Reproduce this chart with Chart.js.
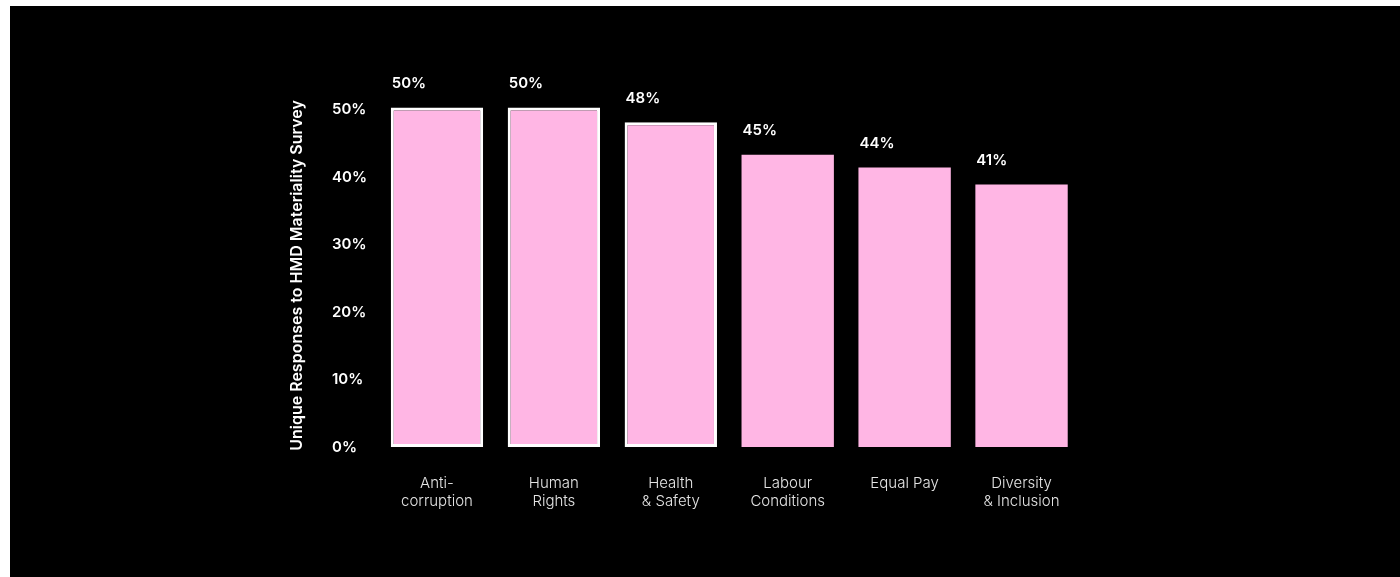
<!DOCTYPE html>
<html>
<head>
<meta charset="utf-8">
<script src="https://cdn.jsdelivr.net/npm/chart.js@4"></script>
<style>
  html, body { margin: 0; padding: 0; background: #ffffff; }
  #caixa { position: absolute; left: 10px; top: 6px; width: 1390px; height: 571px; background: #000000; }
  #caixa canvas { display: block; }
</style>
</head>
<body>
<div id="caixa"><canvas id="graficoMaterialidade" width="1390" height="571"></canvas></div>
<script>
var categorias = [["Anti-", "corruption"], ["Human", "Rights"], ["Health", "& Safety"], ["Labour", "Conditions"], ["Equal Pay"], ["Diversity", "& Inclusion"]];
var valores = [50.3, 50.3, 48.1, 43.3, 41.4, 38.9];
var rotulosValores = ["50%", "50%", "48%", "45%", "44%", "41%"];
var ticksY = [0, 10, 20, 30, 40, 50];
var tituloY = "Unique Responses to HMD Materiality Survey";

var rosa = "#ffb6e4";

// rótulos em cima das barras, alinhados à esquerda da barra
var pluginRotulos = {
    id: "rotulos",
    afterDatasetsDraw: function (chart) {
        var ctx = chart.ctx;
        var meta = chart.getDatasetMeta(0);
        ctx.save();
        ctx.fillStyle = "#ffffff";
        ctx.font = "600 15px Inter";
        ctx.textAlign = "left";
        ctx.textBaseline = "middle";
        meta.data.forEach(function (barra, i) {
            ctx.fillText(rotulosValores[i], barra.x - barra.width / 2 + 1, barra.y - 24);
        });
        ctx.restore();
    }
};

// título do eixo y desenhado à mão (crossAlign far não deixa espaço para o título)
var pluginTitulo = {
    id: "tituloY",
    afterDraw: function (chart) {
        var ctx = chart.ctx;
        var area = chart.chartArea;
        ctx.save();
        ctx.translate(287, (area.top + area.bottom) / 2 + 4);
        ctx.rotate(-Math.PI / 2);
        ctx.fillStyle = "#ffffff";
        ctx.font = "600 16px Inter";
        ctx.textAlign = "center";
        ctx.textBaseline = "middle";
        ctx.fillText(tituloY, 0, 0);
        ctx.restore();
    }
};

var ctx = document.getElementById("graficoMaterialidade").getContext("2d");

new Chart(ctx, {
    type: "bar",
    data: {
        labels: categorias,
        datasets: [{
            data: valores,
            backgroundColor: rosa,
            borderColor: ["#ffffff", "#ffffff", "#ffffff", rosa, rosa, rosa],
            borderWidth: [3, 3, 3, 0, 0, 0],
            borderSkipped: false,
            barPercentage: 1,
            categoryPercentage: 0.79
        }]
    },
    options: {
        responsive: false,
        animation: false,
        devicePixelRatio: 1,
        layout: {
            padding: { left: 322, right: 320, top: 90, bottom: 60 }
        },
        plugins: {
            legend: { display: false },
            tooltip: { enabled: false }
        },
        scales: {
            x: {
                grid: { display: false, drawTicks: false },
                border: { display: false },
                ticks: {
                    color: "#e4e4e4",
                    padding: 27,
                    maxRotation: 0,
                    font: { family: "Inter", size: 15, weight: 300, lineHeight: 1.2 }
                },
                afterFit: function (escala) { escala.height = 70; }
            },
            y: {
                min: 0,
                max: 52,
                grid: { display: false, drawTicks: false },
                border: { display: false },
                afterBuildTicks: function (escala) {
                    escala.ticks = ticksY.map(function (v) { return { value: v }; });
                },
                afterFit: function (escala) { escala.width = 46.5; },
                ticks: {
                    color: "#ffffff",
                    crossAlign: "far",
                    font: { family: "Inter", size: 15, weight: 600 },
                    callback: function (v) { return v + "%"; }
                }
            }
        }
    },
    plugins: [pluginRotulos, pluginTitulo]
});
</script>
</body>
</html>
